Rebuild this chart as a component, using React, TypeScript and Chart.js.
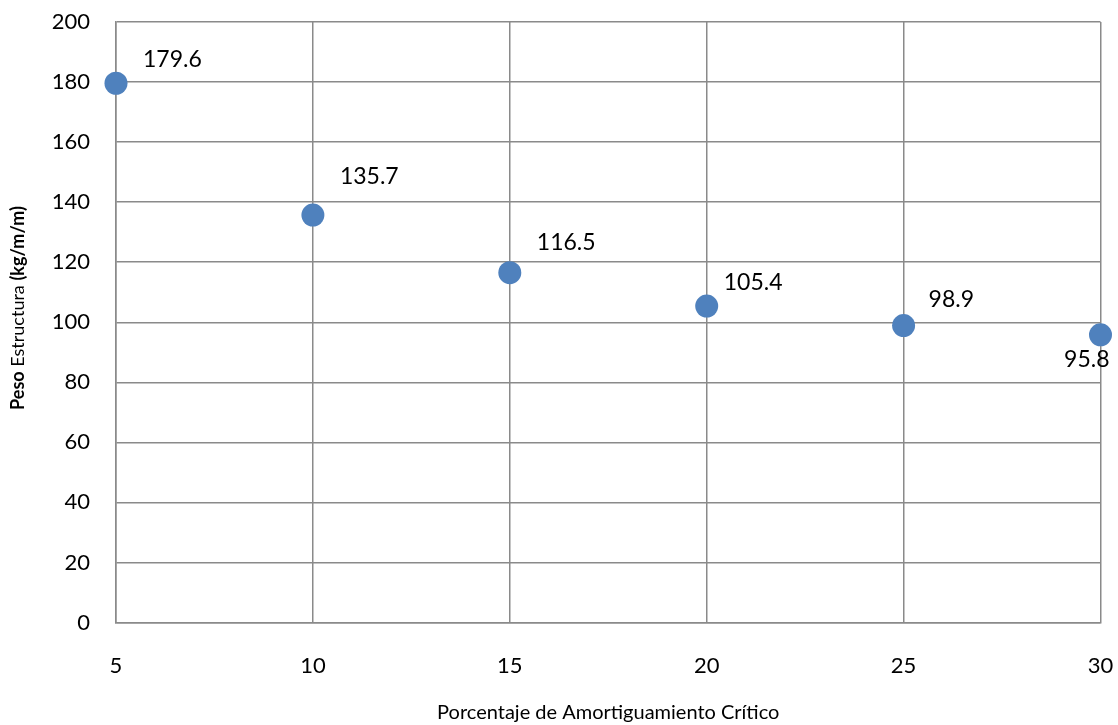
import React, { useEffect, useRef } from "react";
import { Chart, registerables } from "chart.js";

Chart.register(...registerables);

const dampingPct: number[] = [5, 10, 15, 20, 25, 30];
const weightKgmm: number[] = [179.6, 135.7, 116.5, 105.4, 98.9, 95.8];
const xTitle = "Porcentaje de Amortiguamiento Crítico";
const yTitleParts: { text: string; bold: boolean }[] = [
  { text: "Peso", bold: true },
  { text: " Estructura ", bold: false },
  { text: "(kg/m/m)", bold: true },
];

const FONT = "Lato, 'Open Sans', sans-serif";
const GRID = "#8a8a8a";

// label placement style (pixel offsets from each marker, as in the source chart)
const LABEL_STYLE: { dx: number; dy: number; align: CanvasTextAlign }[] = [
  { dx: 27, dy: -24, align: "left" },
  { dx: 27, dy: -38, align: "left" },
  { dx: 27, dy: -30, align: "left" },
  { dx: 17, dy: -23, align: "left" },
  { dx: 25, dy: -26, align: "left" },
  { dx: 9, dy: 25, align: "right" },
];

const labelPlugin = {
  id: "pointLabels",
  afterDatasetsDraw(chart: any) {
    const ctx = chart.ctx;
    const meta = chart.getDatasetMeta(0);
    ctx.save();
    ctx.font = `23px ${FONT}`;
    ctx.fillStyle = "#000";
    ctx.textBaseline = "middle";
    meta.data.forEach((el: any, i: number) => {
      const txt = weightKgmm[i].toFixed(1);
      const s = LABEL_STYLE[i] || { dx: 27, dy: -24, align: "left" };
      ctx.textAlign = s.align;
      ctx.fillText(txt, el.x + s.dx, el.y + s.dy);
    });
    ctx.restore();
  },
};

const yTitlePlugin = {
  id: "yTitle",
  afterDraw(chart: any) {
    const ctx = chart.ctx;
    ctx.save();
    const size = 18;
    const widths = yTitleParts.map((p) => {
      ctx.font = `${p.bold ? "bold " : ""}${size}px ${FONT}`;
      return ctx.measureText(p.text).width;
    });
    const total = widths.reduce((a, b) => a + b, 0);
    const cy = 308;
    ctx.translate(18, cy);
    ctx.rotate(-Math.PI / 2);
    ctx.textBaseline = "middle";
    ctx.textAlign = "left";
    ctx.fillStyle = "#000";
    let x = -total / 2;
    yTitleParts.forEach((p, i) => {
      ctx.font = `${p.bold ? "bold " : ""}${size}px ${FONT}`;
      ctx.fillText(p.text, x, 0);
      x += widths[i];
    });
    ctx.restore();
  },
};

export default function App() {
  const ref = useRef<HTMLCanvasElement | null>(null);
  useEffect(() => {
    document.body.style.margin = "0";
    const chart = new Chart(ref.current as HTMLCanvasElement, {
      type: "scatter",
      data: {
        datasets: [
          {
            data: dampingPct.map((x, i) => ({ x, y: weightKgmm[i] })),
            backgroundColor: "#4F81BD",
            borderColor: "#4F81BD",
            pointRadius: 11.5,
            pointHoverRadius: 11.5,
            borderWidth: 0,
          },
        ],
      },
      options: {
        animation: false,
        responsive: false,
        clip: false as any,
        layout: { padding: { top: 22, right: 17.5, left: 0, bottom: 0 } },
        plugins: {
          legend: { display: false },
          tooltip: { enabled: false },
        },
        scales: {
          x: {
            type: "linear",
            min: 5,
            max: 30,
            ticks: {
              stepSize: 5,
              color: "#000",
              font: { family: FONT, size: 22 },
              padding: 30,
            },
            grid: { color: GRID, lineWidth: 1.5, drawTicks: false },
            border: { color: GRID, width: 1.5 },
            title: {
              display: true,
              text: xTitle,
              color: "#000",
              font: { family: FONT, size: 20 },
              padding: { top: 16, bottom: 0 },
            },
            afterFit(scale: any) {
              scale.height = 102.5;
              scale.paddingLeft = 0;
              scale.paddingRight = 0;
            },
          },
          y: {
            type: "linear",
            min: 0,
            max: 200,
            ticks: {
              stepSize: 20,
              color: "#000",
              font: { family: FONT, size: 22 },
              padding: 26,
            },
            grid: { color: GRID, lineWidth: 1.5, drawTicks: false },
            border: { color: GRID, width: 1.5 },
            afterFit(scale: any) {
              scale.width = 116;
              scale.paddingTop = 0;
              scale.paddingBottom = 0;
            },
          },
        },
      },
      plugins: [labelPlugin, yTitlePlugin],
    });
    return () => chart.destroy();
  }, []);
  return (
    <div style={{ position: "absolute", left: 0, top: 0, width: 1118, height: 725, background: "#fff" }}>
      <canvas ref={ref} width={1118} height={725} />
    </div>
  );
}
